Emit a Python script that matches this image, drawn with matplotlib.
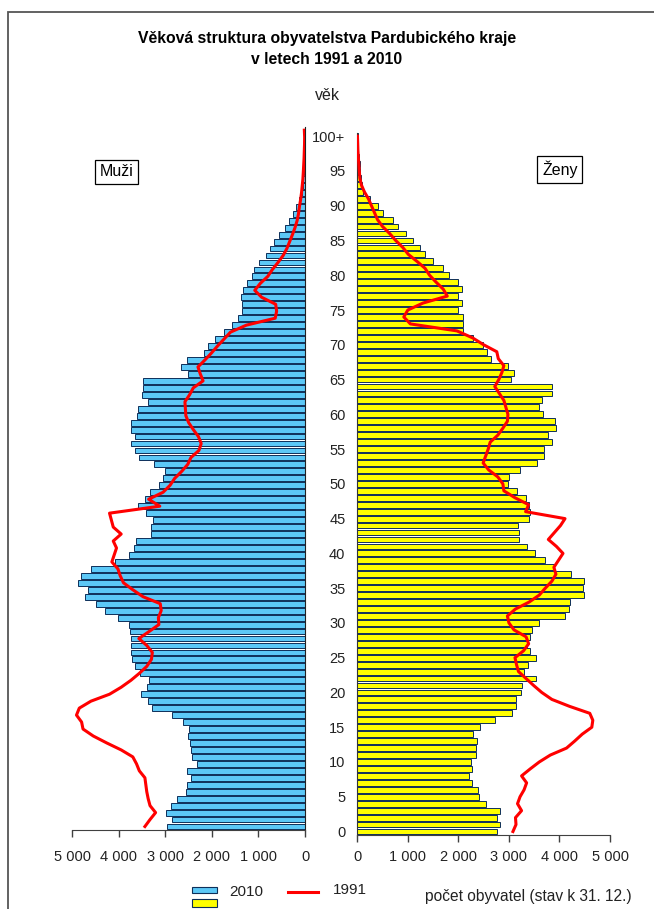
import numpy as np
import matplotlib
matplotlib.use('Agg')
import matplotlib.pyplot as plt
from matplotlib.patches import Rectangle
from matplotlib.lines import Line2D
from matplotlib.ticker import FuncFormatter

plt.rcParams['font.family'] = ['Liberation Sans', 'DejaVu Sans']

# vek 0..100 (100 = 100+)
ages = np.arange(101)

men_2010 = [2975, 2853, 2989, 2889, 2760, 2566, 2545, 2452, 2545, 2323,
            2423, 2459, 2473, 2516, 2495, 2631, 2853, 3283, 3383, 3520,
            3405, 3355, 3548, 3663, 3713, 3735, 3735, 3735, 3763, 3785,
            4028, 4287, 4495, 4731, 4659, 4874, 4803, 4588, 4086, 3778,
            3677, 3634, 3319, 3319, 3276, 3419, 3584, 3441, 3333, 3133,
            3061, 3011, 3240, 3563, 3656, 3728, 3656, 3728, 3728, 3606,
            3584, 3369, 3513, 3491, 3491, 2509, 2674, 2530, 2172, 2079,
            1935, 1742, 1577, 1434, 1362, 1362, 1376, 1326, 1240, 1147,
            1097, 982, 839, 753, 667, 552, 430, 337, 251, 194,
            122, 70, 50, 38, 28, 20, 14, 9, 6, 4, 4]

women_2010 = [2758, 2824, 2771, 2824, 2540, 2415, 2395, 2263, 2217, 2263,
              2244, 2349, 2349, 2375, 2283, 2435, 2725, 3068, 3134, 3134,
              3240, 3266, 3537, 3299, 3385, 3537, 3418, 3352, 3418, 3464,
              3602, 4110, 4196, 4209, 4493, 4460, 4493, 4223, 3893, 3715,
              3517, 3365, 3200, 3200, 3187, 3405, 3418, 3405, 3339, 3154,
              2976, 3002, 3220, 3563, 3701, 3701, 3847, 3781, 3926, 3913,
              3682, 3602, 3662, 3860, 3847, 3042, 3108, 2989, 2640, 2573,
              2481, 2283, 2085, 2085, 2098, 1999, 2065, 1999, 2065, 1999,
              1821, 1689, 1492, 1340, 1241, 1096, 964, 799, 713, 502,
              416, 251, 110, 85, 70, 60, 45, 30, 20, 15, 20]

men_1991 = [3440, 3330, 3210, 3330, 3370, 3400, 3420, 3440, 3560, 3620,
            3700, 3950, 4260, 4550, 4770, 4800, 4910, 4850, 4600, 4200,
            3950, 3740, 3560, 3400, 3300, 3280, 3400, 3570, 3350, 3140,
            3150, 3090, 3110, 3480, 3700, 3900, 3970, 4020, 4150, 4100,
            4050, 4120, 3950, 4120, 4160, 4200, 3120, 3360, 3050, 2900,
            2800, 2650, 2520, 2450, 2280, 2230, 2290, 2400, 2500, 2560,
            2570, 2580, 2480, 2400, 2190, 2250, 2300, 2150, 2010, 1880,
            1740, 1600, 1260, 640, 610, 630, 930, 1080, 960, 800,
            700, 580, 470, 390, 330, 270, 215, 170, 140, 120,
            95, 75, 60, 45, 36, 28, 20, 15, 10, 8, 14]

women_1991 = [3080, 3140, 3130, 3250, 3170, 3220, 3300, 3350, 3250, 3420,
              3600, 3820, 4140, 4300, 4450, 4640, 4660, 4600, 4200, 3850,
              3650, 3490, 3340, 3190, 3150, 3120, 3290, 3390, 3340, 3100,
              3000, 2970, 3130, 3400, 3600, 3720, 3850, 3930, 3890, 3980,
              4070, 3940, 3780, 3900, 4020, 4110, 3330, 3390, 3120, 2900,
              2880, 2780, 2600, 2490, 2540, 2590, 2630, 2780, 2880, 2970,
              2980, 2940, 2900, 2810, 2720, 2800, 2860, 2900, 2790, 2760,
              2500, 2280, 1970, 1050, 920, 1000, 1300, 1780, 1700, 1560,
              1430, 1340, 1180, 1010, 900, 760, 640, 500, 400, 340,
              280, 220, 140, 80, 50, 40, 30, 20, 12, 8, 3]

count_ticks = [0, 1000, 2000, 3000, 4000, 5000]
age_ticks = list(range(0, 101, 5))
age_labels = [str(a) for a in age_ticks[:-1]] + ['100+']

BLUE = '#5CC8F7'
YELLOW = '#FFFF00'
EDGE = '#0E2F5A'
RED = '#FF0000'
AXC = '#404040'
TXT = '#222222'

W, H = 654, 909


def fx(px):
    return px / W


def fy(py):
    return 1 - py / H


def thousands(v, pos):
    return '{:,}'.format(int(round(v))).replace(',', ' ')


fig = plt.figure(figsize=(6.54, 9.09), dpi=100)

ax_m = fig.add_axes([fx(72.3), fy(830), fx(305) - fx(72.3), fy(126.7) - fy(830)])
ax_f = fig.add_axes([fx(357.3), fy(835), fx(610) - fx(357.3), fy(132.7) - fy(835)])

# muzi
ax_m.barh(ages, men_2010, height=0.84, color=BLUE, edgecolor=EDGE, linewidth=0.7, zorder=2)
ax_m.plot(men_1991, ages, color=RED, lw=2.2, zorder=3, solid_joinstyle='round')
ax_m.set_xlim(5000, 0)
ax_m.set_ylim(-0.5, 100.5)

# zeny
ax_f.barh(ages, women_2010, height=0.84, color=YELLOW, edgecolor=EDGE, linewidth=0.7, zorder=2)
ax_f.plot(women_1991, ages, color=RED, lw=2.2, zorder=3, solid_joinstyle='round')
ax_f.set_xlim(0, 5000)
ax_f.set_ylim(-0.5, 100.5)

for ax in (ax_m, ax_f):
    ax.set_facecolor('none')
    ax.set_xticks(count_ticks)
    ax.xaxis.set_major_formatter(FuncFormatter(thousands))
    ax.spines['top'].set_visible(False)
    ax.spines['bottom'].set_color(AXC)
    ax.tick_params(axis='x', direction='out', length=5, width=1, color=AXC,
                   labelsize=10.5, labelcolor=TXT)

ax_m.spines['left'].set_visible(False)
ax_m.spines['right'].set_color('#222222')
ax_m.set_yticks([])
ax_m.tick_params(axis='x', pad=9.5)

ax_f.spines['right'].set_visible(False)
ax_f.spines['left'].set_color('#333333')
ax_f.set_yticks(age_ticks)
ax_f.set_yticklabels(age_labels)
ax_f.tick_params(axis='y', length=0, pad=8.5, labelsize=10.5, labelcolor=TXT)
ax_f.tick_params(axis='x', pad=6)

# texty
fig.text(fx(327), fy(38), 'Věková struktura obyvatelstva Pardubického kraje',
         ha='center', va='center', fontsize=11.3, fontweight='bold')
fig.text(fx(327), fy(60), 'v letech 1991 a 2010',
         ha='center', va='center', fontsize=11.3, fontweight='bold')
fig.text(fx(327), fy(95), 'věk', ha='center', va='center', fontsize=11.5, color=TXT)

box = dict(boxstyle='square,pad=0.3', facecolor='white', edgecolor='black', linewidth=0.9)
fig.text(fx(116.7), fy(172), 'Muži', ha='center', va='center', fontsize=11.5, bbox=box)
fig.text(fx(559.8), fy(169.5), 'Ženy', ha='center', va='center', fontsize=11.5, bbox=box)

# legenda
fig.add_artist(Rectangle((fx(191.7), fy(893.3)), fx(216.7) - fx(191.7), fy(886.7) - fy(893.3),
                         transform=fig.transFigure, facecolor=BLUE, edgecolor=EDGE, lw=0.8))
fig.add_artist(Rectangle((fx(191.7), fy(906.7)), fx(216.7) - fx(191.7), fy(899.3) - fy(906.7),
                         transform=fig.transFigure, facecolor=YELLOW, edgecolor=EDGE, lw=0.8))
fig.text(fx(229), fy(892), '2010', ha='left', va='center', fontsize=11, color=TXT)
fig.add_artist(Line2D([fx(287.7), fx(318.3)], [fy(891.7), fy(891.7)],
                      transform=fig.transFigure, color=RED, lw=2.2))
fig.text(fx(333), fy(890), '1991', ha='left', va='center', fontsize=11, color=TXT)
fig.text(fx(425), fy(896.7), 'počet obyvatel (stav k 31. 12.)', ha='left', va='center',
         fontsize=11.2, color=TXT)

# ramecek
fig.add_artist(Rectangle((fx(8), -0.1), 1.2, fy(11.5) + 0.1, transform=fig.transFigure,
                         fill=False, edgecolor='#555555', lw=1.3))

fig.savefig('out.png', dpi=100)
